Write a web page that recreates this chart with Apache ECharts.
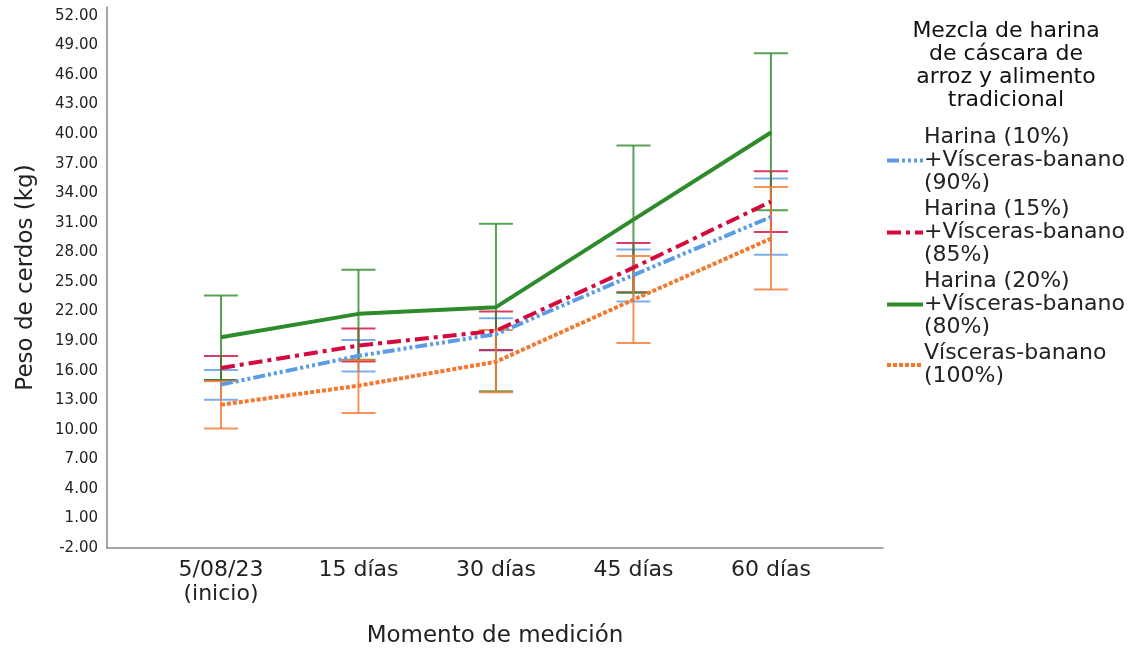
<!DOCTYPE html>
<html>
<head>
<meta charset="utf-8">
<script src="https://cdn.jsdelivr.net/npm/echarts@6/dist/echarts.min.js"></script>
<style>
  html, body { margin: 0; padding: 0; background: #fff; }
  #chart { width: 1138px; height: 653px; }
</style>
</head>
<body>
<div id="chart"></div>
<script>
// categories (x positions 0..4)
var categories = ["5/08/23\n(inicio)", "15 días", "30 días", "45 días", "60 días"];
var yTicks = { min: -2, max: 52.9, step: 3 };

var seriesNames = [
  "Harina (10%) +Vísceras-banano (90%)",
  "Harina (15%) +Vísceras-banano (85%)",
  "Harina (20%) +Vísceras-banano (80%)",
  "Vísceras-banano (100%)"
];
var legendLabels = [
  "Harina (10%)\n+Vísceras-banano\n(90%)",
  "Harina (15%)\n+Vísceras-banano\n(85%)",
  "Harina (20%)\n+Vísceras-banano\n(80%)",
  "Vísceras-banano\n(100%)"
];
var legendTitle = "Mezcla de harina\nde cáscara de\narroz y alimento\ntradicional";

// means
var mean10 = [14.58, 17.5, 19.7, 25.7, 31.6];
var mean15 = [16.27, 18.54, 20.05, 26.45, 33.15];
var mean20 = [19.39, 21.76, 22.44, 31.32, 40.17];
var mean100 = [12.54, 14.47, 16.9, 23.2, 29.4];

// error bar bounds
var low10 = [13.05, 15.9, 18.05, 23.02, 27.77];
var high10 = [16.07, 19.12, 21.32, 28.3, 35.49];
var low15 = [15.05, 16.92, 18.1, 23.96, 30.07];
var high15 = [17.49, 20.27, 22.0, 28.95, 36.24];
var low20 = [15.05, 17.1, 13.9, 23.9, 32.27];
var high20 = [23.63, 26.24, 30.91, 38.85, 48.2];
var low100 = [10.13, 11.7, 13.8, 18.81, 24.24];
var high100 = [14.91, 17.09, 20.13, 27.62, 34.64];

var colors = ["#5a9be6", "#d40a3c", "#2e8b2a", "#f5782f"];
var dashes = [[12, 3, 3, 3, 3, 3, 3, 3], [14, 5, 4, 5], "solid", [4, 2]];
var means = [mean10, mean15, mean20, mean100];
var lows = [low10, low15, low20, low100];
var highs = [high10, high15, high20, high100];

var FONT = "DejaVu Sans";

function pts(arr) {
  return arr.map(function (v, i) { return [i, v]; });
}

function errData(lo, hi) {
  return lo.map(function (v, i) { return [i, v, hi[i]]; });
}

function makeErr(color) {
  return function (params, api) {
    var x = api.value(0);
    var a = api.coord([x, api.value(1)]);
    var b = api.coord([x, api.value(2)]);
    var hw = 17;
    var st = { stroke: color, lineWidth: 2, opacity: 0.8 };
    return {
      type: "group",
      children: [
        { type: "line", shape: { x1: a[0], y1: a[1], x2: b[0], y2: b[1] }, style: st },
        { type: "line", shape: { x1: a[0] - hw, y1: a[1], x2: a[0] + hw, y2: a[1] }, style: st },
        { type: "line", shape: { x1: b[0] - hw, y1: b[1], x2: b[0] + hw, y2: b[1] }, style: st }
      ]
    };
  };
}

var series = [];
for (var i = 0; i < 4; i++) {
  series.push({
    name: seriesNames[i] + " err",
    type: "custom",
    renderItem: makeErr(colors[i]),
    data: errData(lows[i], highs[i]),
    z: 1,
    silent: true
  });
}
for (var j = 0; j < 4; j++) {
  series.push({
    name: seriesNames[j],
    type: "line",
    data: pts(means[j]),
    symbol: "none",
    color: colors[j],
    lineStyle: { color: colors[j], width: 4, type: dashes[j], cap: "butt" },
    z: 3
  });
}

var chart = echarts.init(document.getElementById("chart"));
chart.setOption({
  animation: false,
  backgroundColor: "#fff",
  textStyle: { fontFamily: FONT },
  title: {
    text: legendTitle,
    left: 1001,
    top: 15,
    textAlign: "center",
    textStyle: { fontFamily: FONT, fontSize: 22, lineHeight: 23, fontWeight: "normal", color: "#111" }
  },
  legend: {
    data: seriesNames,
    orient: "vertical",
    left: 880,
    top: 121,
    itemWidth: 36,
    itemHeight: 10,
    itemGap: 3,
    selectedMode: false,
    formatter: function (name) { return legendLabels[seriesNames.indexOf(name)]; },
    textStyle: { fontFamily: FONT, fontSize: 22, lineHeight: 23, color: "#222", padding: [0, 0, 0, -4] },
    itemStyle: { opacity: 0 },
    lineStyle: { width: 4 }
  },
  grid: { left: 107, right: 255, top: 7, bottom: 102 },
  xAxis: {
    type: "value",
    min: -0.829,
    max: 4.815,
    splitLine: { show: false },
    axisTick: { show: false },
    axisLine: { show: true, onZero: false, lineStyle: { color: "#888", width: 1.5 } },
    axisLabel: {
      margin: 10,
      fontFamily: FONT,
      fontSize: 22,
      lineHeight: 24,
      color: "#222",
      formatter: function (v) {
        var r = Math.round(v);
        if (Math.abs(v - r) < 1e-6 && r >= 0 && r < categories.length) return categories[r];
        return "";
      }
    },
    name: "Momento de medición",
    nameLocation: "middle",
    nameGap: 77,
    nameTextStyle: { fontFamily: FONT, fontSize: 23, color: "#222" }
  },
  yAxis: {
    type: "value",
    min: yTicks.min,
    max: yTicks.max,
    interval: yTicks.step,
    splitLine: { show: false },
    axisTick: { show: false },
    axisLine: { show: true, onZero: false, lineStyle: { color: "#888", width: 1.5 } },
    axisLabel: {
      margin: 9,
      fontFamily: FONT,
      fontSize: 15,
      color: "#222",
      showMaxLabel: false,
      formatter: function (v) { return v.toFixed(2); }
    },
    name: "Peso de cerdos (kg)",
    nameLocation: "middle",
    nameGap: 69,
    nameTextStyle: { fontFamily: FONT, fontSize: 23, color: "#222" }
  },
  series: series
});
</script>
</body>
</html>
